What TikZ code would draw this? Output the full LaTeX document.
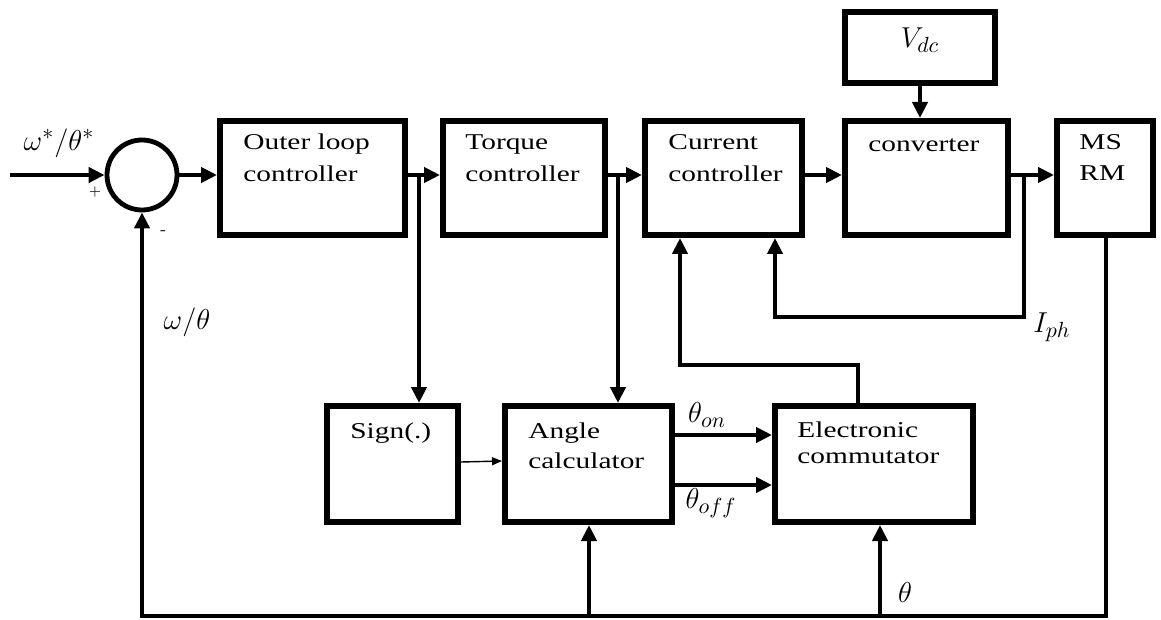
\documentclass[tikz,border=0pt]{standalone}
\usepackage{fontspec}
\setmainfont{Liberation Serif}[FakeStretch=1.3]
\usetikzlibrary{arrows.meta}
\begin{document}
\begin{tikzpicture}[x=0.5pt,y=-0.5pt,
  blk/.style={draw, line width=3pt, inner sep=0pt},
  conn/.style={line width=2.4pt},
  arr/.style={conn, -{Triangle[length=8pt,width=7.5pt]}},
  thinarr/.style={line width=0.7pt, -{Triangle[length=5pt,width=4pt]}},
  txt/.style={anchor=base west, inner sep=0pt, font=\fontsize{11.3}{14}\selectfont},
  lbl/.style={inner sep=0pt, font=\fontsize{15}{17}\selectfont},
  sgn/.style={inner sep=0pt, font=\fontsize{7}{8}\selectfont}]
\useasboundingbox (0,0) rectangle (1161,620);

% blocks
\node[blk, minimum width=92.5pt, minimum height=57pt] (outer) at (312.5,178) {};
\node[blk, minimum width=81pt, minimum height=57pt] (torque) at (524,178) {};
\node[blk, minimum width=78.5pt, minimum height=57pt] (current) at (723.5,178) {};
\node[blk, minimum width=81.5pt, minimum height=57pt] (conv) at (926.5,178) {};
\node[blk, minimum width=48pt, minimum height=57pt] (msrm) at (1105,178) {};
\node[blk, minimum width=75pt, minimum height=35.5pt] (vdc) at (920,47.5) {};
\node[blk, minimum width=65.5pt, minimum height=58pt] (sign) at (392.5,464) {};
\node[blk, minimum width=83.5pt, minimum height=58pt] (angle) at (588.5,464) {};
\node[blk, minimum width=99pt, minimum height=58pt] (comm) at (874,464) {};
\node[draw, circle, line width=2.4pt, minimum size=35pt, inner sep=0pt] (sum) at (142,175) {};

% block texts
\node[txt] (t1a) at (243,150) {Outer loop};
\node[txt] (t1b) at (243,182) {controller};
\node[txt] (t2a) at (465,150) {Torque};
\node[txt] (t2b) at (465,182) {controller};
\node[txt] (t3a) at (668,150) {Current};
\node[txt] (t3b) at (668,182) {controller};
\node[txt] (t4) at (868,152) {converter};
\node[txt] (t5a) at (1079,150) {MS};
\node[txt] (t5b) at (1079,181) {RM};
\node[txt] (t6) at (350,438) {Sign(.)};
\node[txt] (t7a) at (528,438) {Angle};
\node[txt] (t7b) at (528,468) {calculator};
\node[txt] (t8a) at (797,437) {Electronic};
\node[txt] (t8b) at (797,463) {commutator};
\node[lbl] (tv) at (920,40) {$V_{dc}$};

% signal labels
\node[lbl] (lin) at (59,143) {$\omega^{*}/\theta^{*}$};
\node[sgn] (lp) at (95,192) {$+$};
\node[sgn] (lm) at (163,233) {-};
\node[lbl] (lfb) at (187,322) {$\omega/\theta$};
\node[lbl] (liph) at (1052,327) {$I_{ph}$};
\node[lbl] (lon) at (707,415) {$\theta_{on}$};
\node[lbl] (loff) at (711,503) {$\theta_{off}$};
\node[lbl] (lth) at (905,592) {$\theta$};

% coordinates
\coordinate (in) at (10,175);
\coordinate (b1) at (419,175);
\coordinate (b2) at (618,175);
\coordinate (b3) at (1024,175);
\coordinate (iph) at (1024,317);
\coordinate (iphl) at (775,317);
\coordinate (cm) at (858,365);
\coordinate (cml) at (680,365);
\coordinate (br) at (1106,616);
\coordinate (bl) at (142,616);
\coordinate (ba) at (589,616);
\coordinate (bc) at (880,616);

% forward path
\draw[arr] (in) -- (in -| sum.west);
\draw[arr] (sum.east) -- (sum.east -| outer.west);
\draw[arr] (outer.east |- b1) -- (b1 -| torque.west);
\draw[arr] (torque.east |- b2) -- (b2 -| current.west);
\draw[arr] (current.east |- b2) -- (b2 -| conv.west);
\draw[arr] (conv.east |- b3) -- (b3 -| msrm.west);
\draw[arr] (vdc.south) -- (vdc.south |- conv.north);

% branches
\draw[arr] (b1) -- (b1 |- sign.north);
\draw[arr] (b2) -- (b2 |- angle.north);
\draw[arr] (b3) -- (iph) -- (iphl) -- (iphl |- current.south);
\draw[arr] (comm.north -| cm) -- (cm) -- (cml) -- (cml |- current.south);

% lower row
\draw[thinarr] ([yshift=1pt]sign.east) -- ([yshift=1.5pt]angle.west);
\draw[arr] (angle.east |- 0,435) -- (comm.west |- 0,435);
\draw[arr] (angle.east |- 0,485) -- (comm.west |- 0,485);

% feedback
\draw[arr] (msrm.south -| br) -- (br) -- (bl) -- (sum.south);
\draw[arr] (ba) -- (ba |- angle.south);
\draw[arr] (bc) -- (bc |- comm.south);
\end{tikzpicture}
\end{document}
